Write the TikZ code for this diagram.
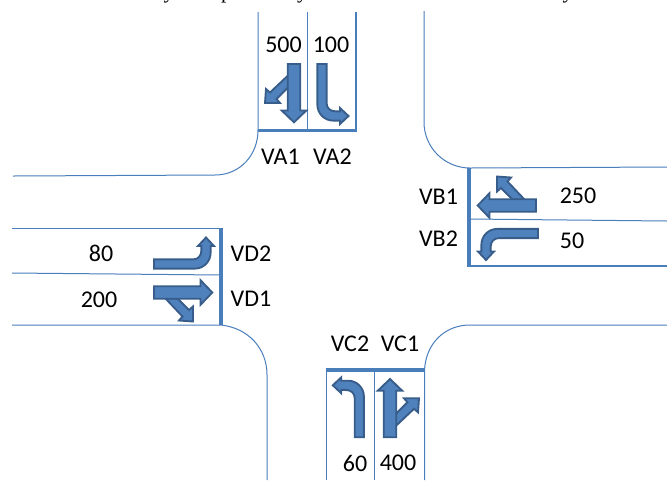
\documentclass[tikz,border=0pt]{standalone}
\usepackage{fontspec}
\setmainfont{Carlito}
\newfontfamily\topfont{Liberation Serif}
\definecolor{roadblue}{HTML}{4A7EBB}
\definecolor{movefill}{HTML}{4F81BD}
\definecolor{moveedge}{HTML}{385D8A}
\tikzset{
  road/.style={draw=roadblue,line width=0.75pt},
  kerb/.style={draw=roadblue,line width=1.5pt},
  stopline/.style={draw=roadblue,line width=2.4pt},
  move/.style={draw=moveedge,fill=movefill,line width=1.4pt,line join=miter},
  lbl/.style={font=\fontsize{18}{20}\selectfont,text=black,inner sep=0pt},
  cutoff/.style={font=\topfont\fontsize{16}{18}\selectfont,anchor=base,inner sep=0pt},
  bentmove/.pic={
    \draw[move] (1,4.6) -- (42,4.6) .. controls (50.5,4.6) and (57.6,-2.5) .. (57.6,-11)
      -- (57.6,-18) -- (61,-18) -- (53,-26.5) -- (45,-18) -- (48.4,-18) -- (48.4,-14)
      .. controls (48.4,-8) and (45,-4.6) .. (40,-4.6) -- (1,-4.6) -- cycle;
  },
  thrumove/.pic={
    \draw[move] (12.5,6) -- (29.5,24) -- (26,28) -- (40,29) -- (40,14)
      -- (36,17.5) -- (24.5,6) -- cycle;
    \draw[move] (1,-6.2) -- (47.5,-6.2) -- (47.5,-12.3) -- (59.3,0) -- (47.5,12.3)
      -- (47.5,6.2) -- (1,6.2) -- cycle;
  }
}

\begin{document}
\begin{tikzpicture}[x=0.75pt,y=-0.75pt]
  \useasboundingbox (0,0) rectangle (667,480);
  % kerbs
  \draw[road] (258,12) -- (258,130) .. controls (258,155) and (240,175) .. (215,175) -- (13,176);
  \draw[road] (424,11) -- (424,122) .. controls (424,148) and (445,168) .. (470,168) -- (667,167);
  \draw[road] (12,325) -- (221,325) .. controls (248,328) and (267,348) .. (267,375) -- (267,480);
  \draw[road] (424.5,480) -- (424.5,370) .. controls (426,343) and (445,325) .. (470,325) -- (667,325);
  \draw[road] (12,228) -- (221,228);
  \draw[road] (326,370) -- (326,480);
  % lane dividers
  \draw[road] (307,12) -- (307,130);
  \draw[road] (469,219) -- (667,221);
  \draw[road] (12,273) -- (221,275);
  \draw[road] (374.5,370) -- (374.5,480);
  \draw[kerb] (356,12) -- (356,130);
  \draw[kerb] (469,266) -- (667,266);
  % stop lines
  \draw[stopline] (258,130.5) -- (357,130.5);
  \draw[stopline] (469,168) -- (469,266.5);
  \draw[stopline] (221,228) -- (221,325);
  \draw[stopline] (325.5,370) -- (424.5,370);
  % movements
  \pic[rotate=270] at (294,63) {thrumove};
  \pic[rotate=270] at (322,63) {bentmove};
  \pic[rotate=180] at (537,205.5) {thrumove};
  \pic[rotate=180] at (539,233.5) {bentmove};
  \pic at (153,292.5) {thrumove};
  \pic at (153,264) {bentmove};
  \pic[rotate=90] at (390,438.3) {thrumove};
  \pic[rotate=90] at (359.3,438.3) {bentmove};
  % north arm
  \node[lbl] (n500) at (283.5,45) {500};
  \node[lbl] (n100) at (331,45) {100};
  \node[lbl] (va1) at (280.5,157) {VA1};
  \node[lbl] (va2) at (332.5,157) {VA2};
  % east arm
  \node[lbl] (vb1) at (438.5,197) {VB1};
  \node[lbl] (vb2) at (438.5,239) {VB2};
  \node[lbl] (n250) at (578,196) {250};
  \node[lbl] (n50) at (572,241) {50};
  % west arm
  \node[lbl] (n80) at (101,253) {80};
  \node[lbl] (n200) at (99,300) {200};
  \node[lbl] (vd2) at (251,254) {VD2};
  \node[lbl] (vd1) at (251,299) {VD1};
  % south arm
  \node[lbl] (vc2) at (350,344) {VC2};
  \node[lbl] (vc1) at (400,344) {VC1};
  \node[lbl] (n60) at (355,463) {60};
  \node[lbl] (n400) at (398,463) {400};
  % sentence cut off by the top edge
  \node[cutoff] (cuta) at (169,-1.5) {y};
  \node[cutoff] (cutb) at (226.5,-1.5) {p};
  \node[cutoff] (cutc) at (302.5,-1.5) {y};
  \node[cutoff] (cutd) at (568,-1.5) {y};
\end{tikzpicture}
\end{document}
